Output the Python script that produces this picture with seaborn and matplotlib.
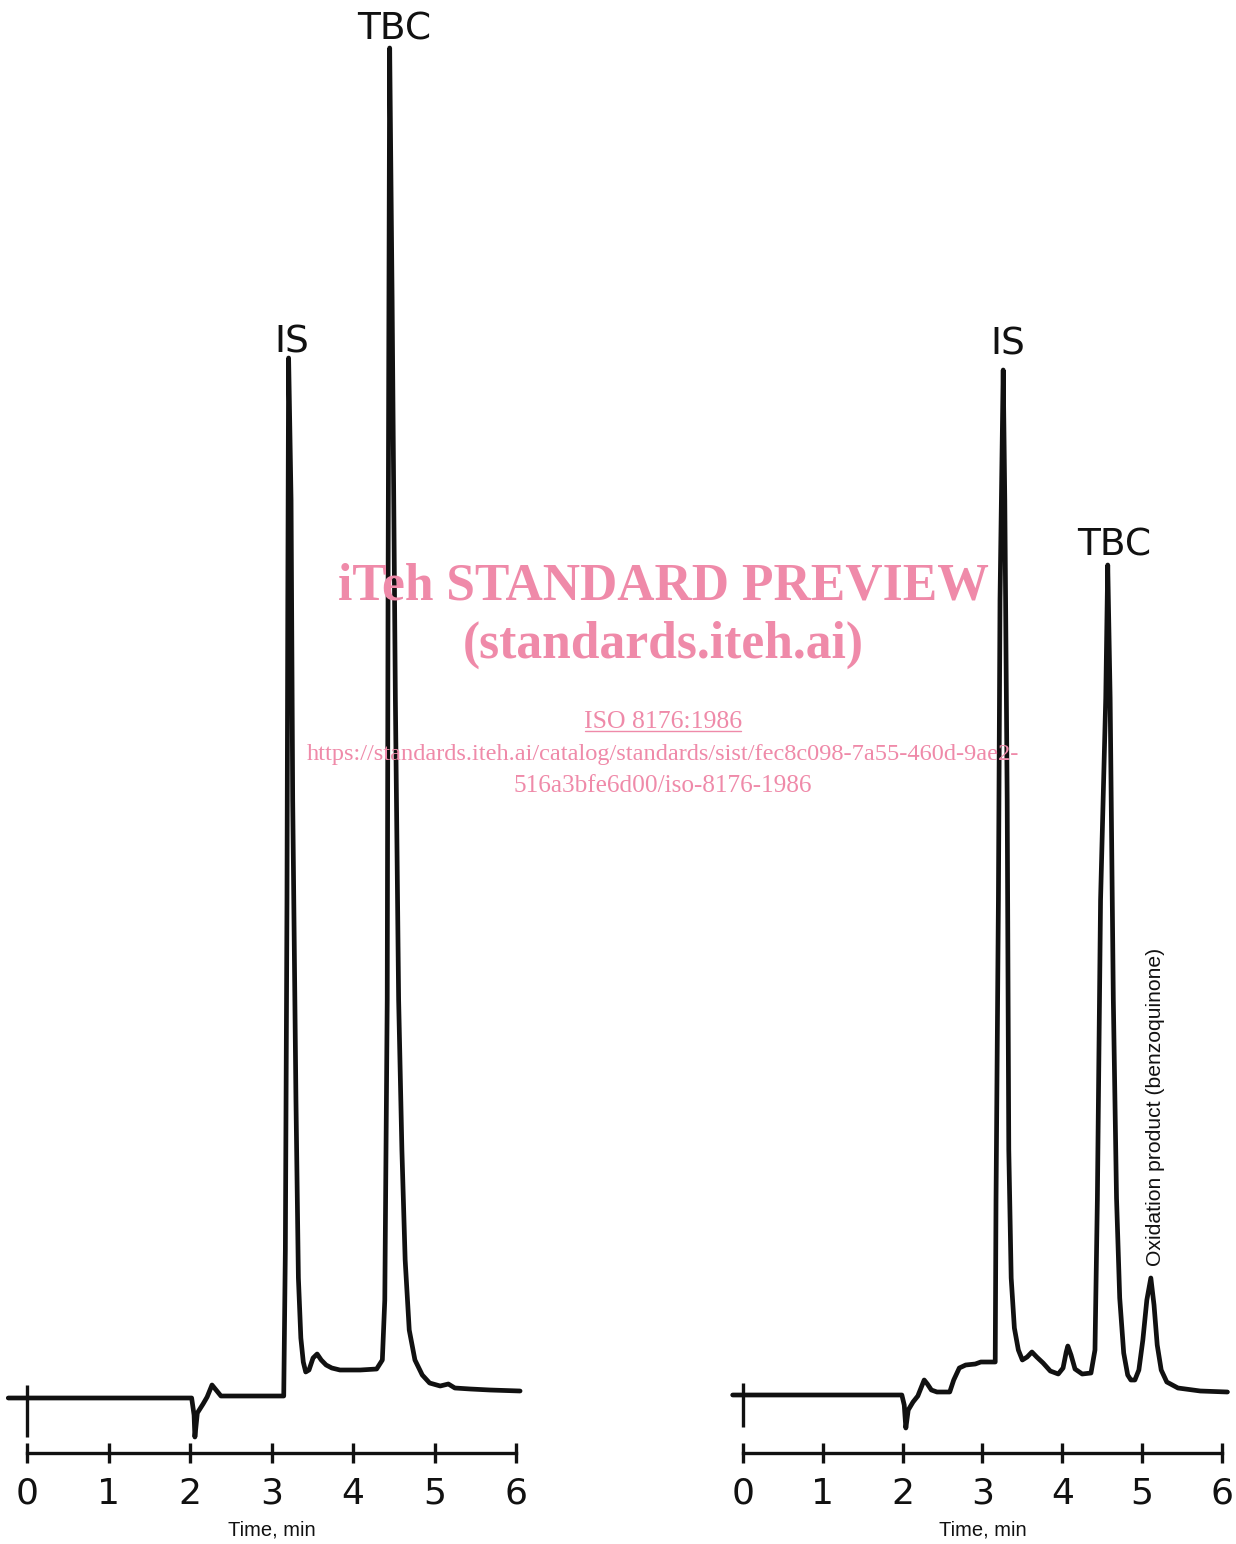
import matplotlib
matplotlib.use('Agg')

import numpy as np
import pandas as pd
import matplotlib.pyplot as plt
from matplotlib.lines import Line2D
import seaborn as sns

# chromatogram traces: time in min, response in chart units
left_time = [-0.23, 2.02, 2.05, 2.06, 2.09, 2.16, 2.21, 2.27, 2.32, 2.38, 3.15,
             3.17, 3.19, 3.20, 3.21, 3.24, 3.26, 3.30, 3.33, 3.36, 3.39, 3.42, 3.46,
             3.51, 3.56, 3.61, 3.67, 3.74, 3.84, 4.09, 4.29, 4.36, 4.39, 4.42,
             4.43, 4.45, 4.48, 4.52, 4.56, 4.60, 4.64, 4.69, 4.76, 4.85, 4.94,
             5.07, 5.17, 5.25, 5.44, 5.68, 6.05]
left_resp = [0.0, 0.0, -1.7, -3.9, -1.5, -0.6, 0.1, 1.3, 0.8, 0.2, 0.2,
             14.8, 49.8, 79.8, 104.0, 89.8, 59.8, 29.8, 12.0, 6.0, 3.6, 2.6, 2.8,
             4.0, 4.4, 3.8, 3.3, 3.0, 2.8, 2.8, 2.9, 3.8, 9.8, 39.8,
             79.8, 135.0, 109.8, 69.8, 39.8, 24.8, 13.8, 6.8, 3.8, 2.3, 1.5,
             1.2, 1.4, 1.0, 0.9, 0.8, 0.7]

right_time = [-0.13, 1.99, 2.02, 2.04, 2.07, 2.13, 2.19, 2.23, 2.27, 2.31, 2.36,
              2.43, 2.59, 2.64, 2.71, 2.79, 2.91, 2.98, 3.16, 3.17, 3.20, 3.22,
              3.26, 3.28, 3.31, 3.33, 3.36, 3.40, 3.45, 3.50, 3.56, 3.62, 3.68, 3.76,
              3.85, 3.95, 4.01, 4.05, 4.07, 4.11, 4.16, 4.25, 4.36, 4.41, 4.44,
              4.48, 4.545, 4.57, 4.60, 4.64, 4.68, 4.72, 4.77, 4.82, 4.86, 4.91, 4.96,
              5.01, 5.06, 5.11, 5.15, 5.19, 5.24, 5.31, 5.45, 5.73, 6.07]
right_resp = [0.3, 0.3, -0.7, -3.0, -1.2, -0.4, 0.2, 1.0, 1.8, 1.4, 0.8,
              0.6, 0.6, 1.8, 3.0, 3.3, 3.4, 3.6, 3.6, 19.8, 49.8, 79.8,
              102.8, 89.8, 59.8, 24.8, 12.0, 7.0, 4.8, 3.8, 4.1, 4.6, 4.1, 3.5,
              2.7, 2.4, 3.0, 4.6, 5.2, 4.3, 2.9, 2.4, 2.5, 4.8, 19.8,
              49.8, 70.0, 83.3, 70.0, 39.8, 20.0, 10.0, 4.5, 2.3, 1.8, 1.8, 2.8,
              5.8, 9.8, 12.0, 9.3, 5.3, 2.8, 1.6, 1.0, 0.7, 0.6]

# peak labels
left_labels = ['IS', 'TBC']
left_label_time = [3.21, 4.45]
left_label_resp = [104.0, 135.0]
right_labels = ['IS', 'TBC', 'Oxidation product (benzoquinone)']
right_label_time = [3.26, 4.57, 5.11]
right_label_resp = [102.8, 83.3, 12.0]

# injection marks at t = 0
left_inject = (1.3, -3.9)
right_inject = (1.5, -2.9)

time_ticks = [0, 1, 2, 3, 4, 5, 6]

pink = '#ef8aa9'
ink = '#111111'

# label offsets in points (style only)
left_offsets = [(2, 4), (3, 6)]
right_offsets = [(3, 11), (5, 7), (3, 9)]

sns.set_style('white')
plt.rcParams['font.family'] = ['DejaVu Sans']

fig = plt.figure(figsize=(12.36, 15.44), dpi=100)
W, H = 1236.0, 1544.0

# axes placed so the time scale lines up with the drawing
ax_l = fig.add_axes([2.55 / W, 0, 537.9 / W, 1])
ax_r = fig.add_axes([719.1 / W, 0, 526.7 / W, 1])


def draw_trace(ax, t, r, inject, labels, lt, lr, offsets):
    df = pd.DataFrame({'time': t, 'response': r})
    sns.lineplot(data=df, x='time', y='response', ax=ax, sort=False,
                 estimator=None, color=ink, lw=3.4,
                 solid_joinstyle='round', solid_capstyle='round')
    ax.vlines(0, inject[1], inject[0], color=ink, lw=2.4)

    for lab, x, y, off in zip(labels, lt, lr, offsets):
        if len(lab) > 5:
            ax.annotate(lab, (x, y), xytext=off, textcoords='offset points',
                        rotation=90, ha='center', va='bottom', fontsize=15.2,
                        family=['Liberation Sans', 'DejaVu Sans'], color=ink)
        else:
            ax.annotate(lab, (x, y), xytext=off, textcoords='offset points',
                        ha='center', va='baseline', fontsize=27, color=ink)

    ax.set_xlim(-0.3, 6.3)
    ax.set_ylim(-14.6, 139.8)
    ax.set_yticks([])
    ax.set_xticks(time_ticks)
    ax.set_xticklabels([str(v) for v in time_ticks])
    ax.tick_params(axis='x', bottom=True, direction='inout', length=14,
                   width=2.4, pad=10, labelsize=26, colors=ink)
    sns.despine(ax=ax, left=True, top=True, right=True)
    ax.spines['bottom'].set_position(('data', -5.5))
    ax.spines['bottom'].set_bounds(0, 6)
    ax.spines['bottom'].set_linewidth(2.4)
    ax.spines['bottom'].set_color(ink)
    ax.set_ylabel('')
    ax.set_xlabel('Time, min', fontsize=14.5,
                  family=['Liberation Sans', 'DejaVu Sans'], color=ink)
    ax.xaxis.set_label_coords(0.5, 1 - 1521 / H)
    ax.patch.set_alpha(0)


draw_trace(ax_l, left_time, left_resp, left_inject,
           left_labels, left_label_time, left_label_resp, left_offsets)
draw_trace(ax_r, right_time, right_resp, right_inject,
           right_labels, right_label_time, right_label_resp, right_offsets)

# preview watermark
serif = ['Liberation Serif', 'DejaVu Serif']
cx = 663 / W
fig.text(cx, 1 - 599 / H, 'iTeh STANDARD PREVIEW', ha='center', va='baseline',
         fontsize=37.2, fontweight='bold', family=serif, color=pink)
fig.text(cx, 1 - 658 / H, '(standards.iteh.ai)', ha='center', va='baseline',
         fontsize=37.2, fontweight='bold', family=serif, color=pink)
fig.text(cx, 1 - 728 / H, 'ISO 8176:1986', ha='center', va='baseline',
         fontsize=18.5, family=serif, color=pink)
fig.add_artist(Line2D([585 / W, 741 / W], [1 - 731 / H, 1 - 731 / H],
                      color=pink, lw=1.0))
fig.text(cx, 1 - 760 / H,
         'https://standards.iteh.ai/catalog/standards/sist/fec8c098-7a55-460d-9ae2-',
         ha='center', va='baseline', fontsize=17.6, family=serif, color=pink)
fig.text(cx, 1 - 792 / H, '516a3bfe6d00/iso-8176-1986', ha='center',
         va='baseline', fontsize=18.2, family=serif, color=pink)

fig.savefig('out.png', dpi=100, facecolor='white')
